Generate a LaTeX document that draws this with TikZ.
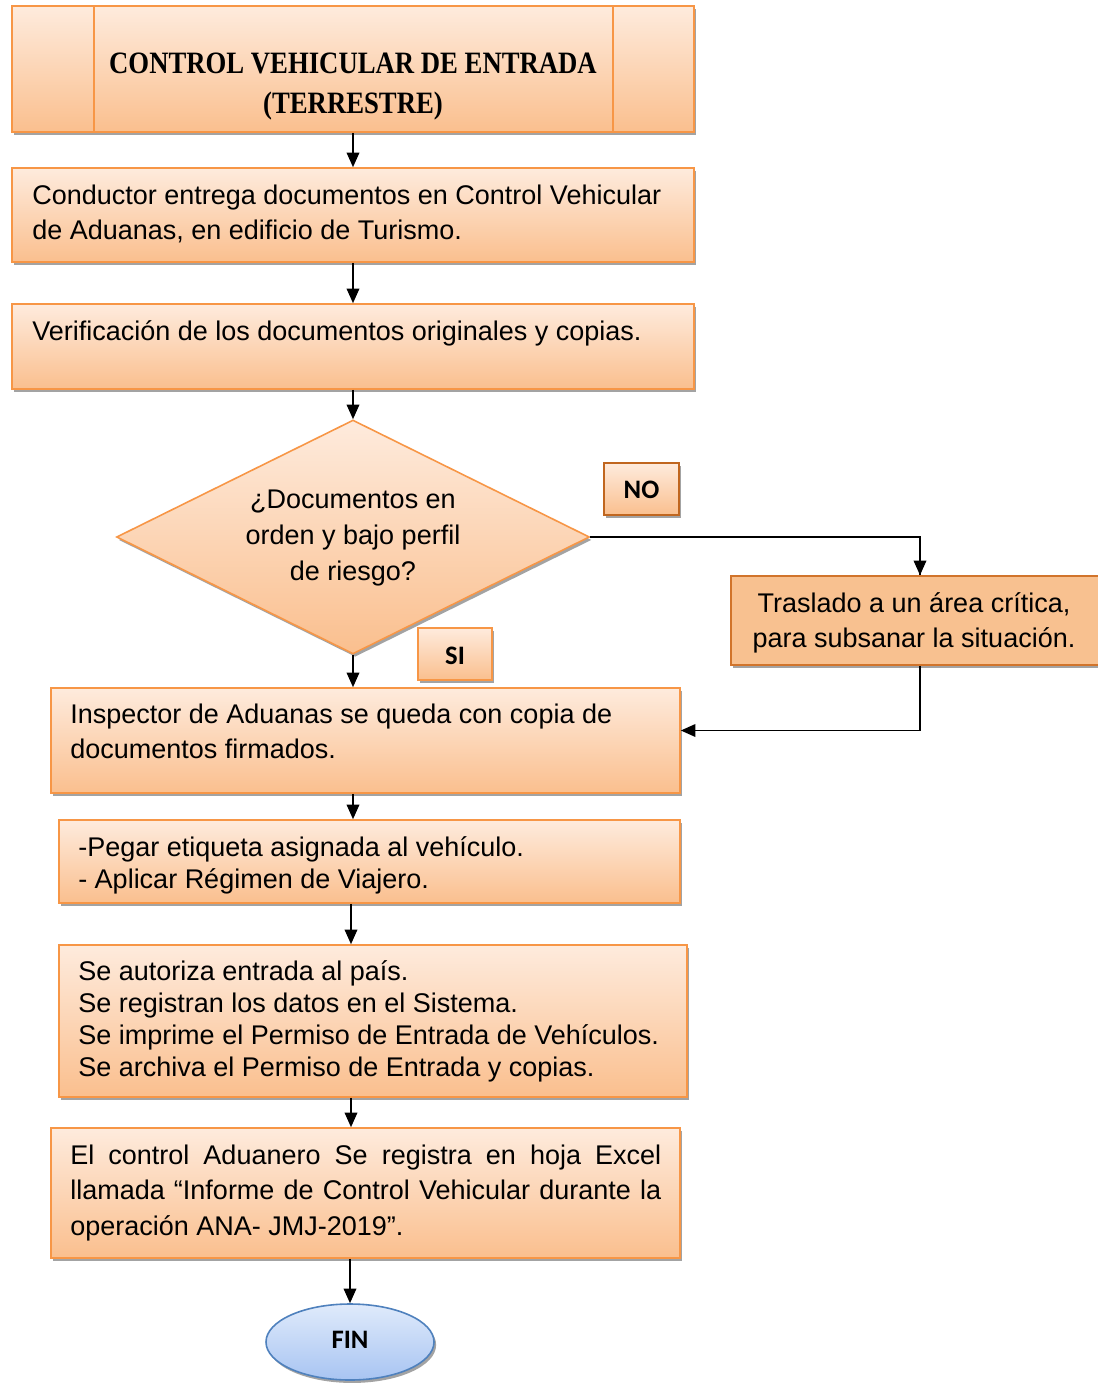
\documentclass[tikz,border=0pt]{standalone}
\usepackage{fontspec}
\setmainfont{Liberation Sans}
\newfontfamily\titlefont[FakeStretch=0.86]{Liberation Serif}
\newfontfamily\calfont{Carlito}
\usetikzlibrary{shapes.geometric,shadows,arrows.meta,calc}
\definecolor{obord}{HTML}{F79646}
\definecolor{otop}{HTML}{FEEBDD}
\definecolor{obot}{HTML}{FABF8E}
\definecolor{osolid}{HTML}{F8C190}
\definecolor{nobord}{HTML}{C0661F}
\definecolor{shad}{HTML}{A3A3A3}
\definecolor{btop}{HTML}{DFEAFB}
\definecolor{bbot}{HTML}{A8C4F2}
\definecolor{bbord}{HTML}{4F81BD}
\newdimen\px \px=0.75pt
\tikzset{
  obox/.style={draw=obord, line width=1.2pt, top color=otop, bottom color=obot,
    drop shadow={shadow xshift=1.6pt, shadow yshift=-2.2pt, fill=shad, opacity=1},
    inner sep=0pt},
  txt/.style={anchor=north west, inner sep=0pt, align=left,
    font=\fontsize{20.25}{26.25}\selectfont},
  txtb/.style={txt, font=\fontsize{20.25}{24}\selectfont},
  lab/.style={font=\calfont\bfseries\fontsize{20}{24}\selectfont, inner sep=0pt},
  arr/.style={line width=1.2pt, -{Triangle[length=11pt,width=9.5pt]}},
  lin/.style={line width=1.2pt}
}
\begin{document}
\begin{tikzpicture}[x=0.75pt,y=-0.75pt]
\useasboundingbox (0,0) rectangle (1097,1384);
\coordinate (axisA) at (353,0);
\coordinate (axisB) at (351,0);
% title
\node[obox, minimum width=682\px, minimum height=126\px] (title) at (353,69) {};
\draw[obord, line width=1.2pt] ($(title.north west)+(83,0)$) -- ($(title.south west)+(83,0)$);
\draw[obord, line width=1.2pt] ($(title.north east)+(-82,0)$) -- ($(title.south east)+(-82,0)$);
\node[font=\titlefont\bfseries\fontsize{23.3}{30}\selectfont, align=center, inner sep=0pt] (titletxt) at (353,87) {CONTROL VEHICULAR DE ENTRADA\\(TERRESTRE)};
% box 2
\node[obox, minimum width=682\px, minimum height=94\px] (box2) at (353,215) {};
\node[txt] (t2) at (32,185) {Conductor entrega documentos en Control Vehicular\\de Aduanas, en edificio de Turismo.};
% box 3
\node[obox, minimum width=682\px, minimum height=85\px] (box3) at (353,346.5) {};
\node[txt] (t3) at (32,320.5) {Verificación de los documentos originales y copias.};
% diamond
\node[diamond, obox, minimum width=473\px, minimum height=234\px] (dec) at (353,537) {};
\node[txt, anchor=north, align=center, font=\fontsize{20.25}{27}\selectfont] (tdec) at (353,490) {¿Documentos en\\orden y bajo perfil\\de riesgo?};
% NO / SI
\node[obox, draw=nobord, minimum width=75\px, minimum height=52\px] (nobox) at (641.5,489) {};
\node[lab] (notxt) at (641.5,490) {NO};
\node[obox, minimum width=74\px, minimum height=52\px] (sibox) at (455,654) {};
\node[lab] (sitxt) at (455,656) {SI};
% traslado
\node[draw=nobord!70!obord, line width=1.2pt, fill=osolid, inner sep=0pt,
  drop shadow={shadow xshift=1.6pt, shadow yshift=-2.2pt, fill=shad, opacity=1},
  minimum width=378\px, minimum height=89\px] (trasl) at (920,620.5) {};
\node[txt, anchor=north, align=center] (ttrasl) at (914,592.5) {Traslado a un área crítica,\\para subsanar la situación.};
% inspector
\node[obox, minimum width=629\px, minimum height=105\px] (insp) at (365.5,740.5) {};
\node[txt] (tinsp) at (70,703.5) {Inspector de Aduanas se queda con copia de\\documentos firmados.};
% pegar
\node[obox, minimum width=621\px, minimum height=83\px] (peg) at (369.5,861.5) {};
\node[txtb] (tpeg) at (78,836.5) {-Pegar etiqueta asignada al vehículo.\\- Aplicar Régimen de Viajero.};
% autoriza
\node[obox, minimum width=628\px, minimum height=152\px] (aut) at (373,1021) {};
\node[txtb] (taut) at (78,960.5) {Se autoriza entrada al país.\\Se registran los datos en el Sistema.\\Se imprime el Permiso de Entrada de Vehículos.\\Se archiva el Permiso de Entrada y copias.};
% control
\node[obox, minimum width=629\px, minimum height=130\px] (ctrl) at (365.5,1193) {};
\node[txt, text width=591\px, align=justify, font=\fontsize{20.25}{26.5}\selectfont] (tctrl) at (70,1144.5) {El control Aduanero Se registra en hoja Excel\linebreak llamada “Informe de Control Vehicular durante la\linebreak operación ANA- JMJ-2019”.};
% fin
\node[ellipse, draw=bbord, line width=1.2pt, top color=btop, bottom color=bbot,
  drop shadow={shadow xshift=1.6pt, shadow yshift=-2.2pt, fill=shad, opacity=1},
  minimum width=168\px, minimum height=76\px, inner sep=0pt] (fin) at (350,1342) {};
\node[lab] (fintxt) at (350,1340) {FIN};
% connectors
\draw[arr] (title) -- (box2);
\draw[arr] (box2) -- (box3);
\draw[arr] (box3) -- (dec.north);
\draw[lin] (dec.east) -| (trasl.north);
\draw[arr] (dec.east -| trasl.north) -- (trasl.north);
\draw[arr] (dec.south) -- (dec.south |- insp.north);
\draw[arr] (trasl.south) |- ([yshift=7.5pt]insp.east);
\draw[arr] (axisA |- insp.south) -- (axisA |- peg.north);
\draw[arr] (axisB |- peg.south) -- (axisB |- aut.north);
\draw[arr] (axisB |- aut.south) -- (axisB |- ctrl.north);
\draw[arr] (fin.north |- ctrl.south) -- (fin.north);
\end{tikzpicture}
\end{document}
